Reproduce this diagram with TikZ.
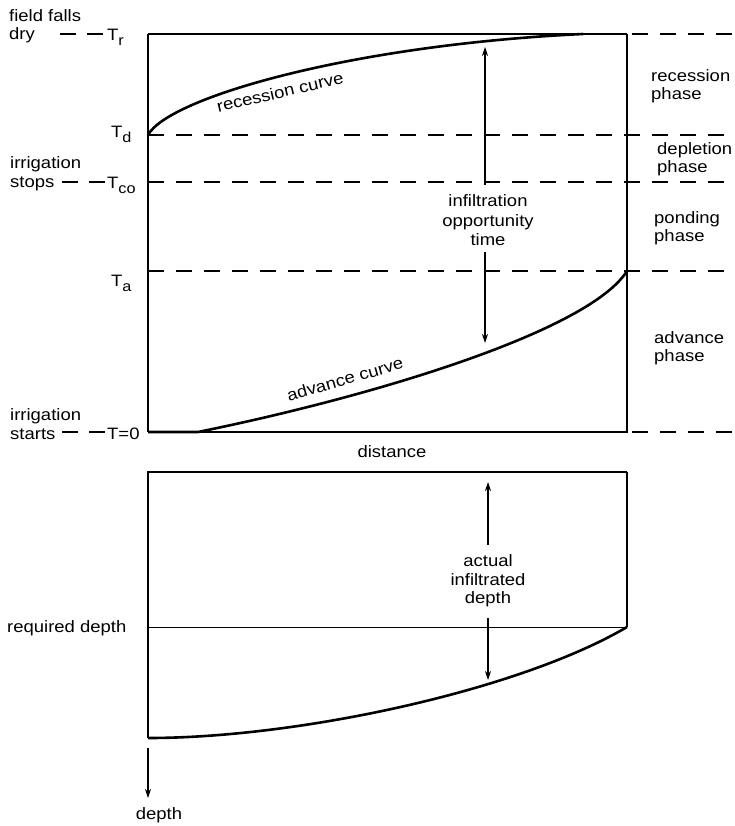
\documentclass[tikz,border=0pt]{standalone}
\usepackage{fontspec}
\setmainfont{Liberation Sans}[FakeStretch=1.12]
\usetikzlibrary{arrows.meta}
\newcommand\lowsub[1]{\raisebox{-5pt}{\fontsize{14.5}{14.5}\selectfont #1}}
\begin{document}
\begin{tikzpicture}[x=1pt,y=-1pt,
  lbl/.style={inner sep=0pt, font=\fontsize{16.5}{18.5}\selectfont},
  boxline/.style={line width=1.2pt},
  topline/.style={line width=1.8pt},
  curveline/.style={line width=2.6pt},
  dashline/.style={line width=1.2pt, dash pattern=on 16pt off 12pt},
  leftdash/.style={line width=1.1pt, dash pattern=on 16pt off 11pt},
  arr/.style={line width=1.1pt, -{Stealth[length=9pt,width=6pt]}},
]
\useasboundingbox (0,0) rectangle (735,826);

% ---------- upper diagram: corners and levels
\coordinate (A) at (148,34);
\coordinate (B) at (627,34);
\coordinate (C) at (627,432);
\coordinate (D) at (148,432);
\coordinate (Adv0) at (198,432);
\coordinate (Rec1) at (583,34);
\coordinate (Td) at (148,135);
\coordinate (Tco) at (148,182);
\coordinate (Ta) at (148,271);
\coordinate (Ta2) at (627,271);
\coordinate (RTr) at (735,34);
\coordinate (RTd) at (735,135);
\coordinate (RTco) at (735,182);
\coordinate (RTa) at (735,271);
\coordinate (R0) at (735,432);
\coordinate (Bd) at (632,34);
\coordinate (Cd) at (632,432);

% box
\draw[topline] (A) -- (B);
\draw[boxline] (A) -- (D);
\draw[boxline] (B) -- (C) -- (D);

% dashed level lines
\draw[dashline] (Bd) -- (RTr);
\draw[dashline] (Td) -- (RTd);
\draw[dashline] (Tco) -- (RTco);
\draw[dashline] (Ta) -- (RTa);
\draw[dashline] (Cd) -- (R0);

% curves
\draw[curveline] (Td) .. controls (168,98) and (350,45) .. (Rec1);
\draw[curveline] (D) -- (Adv0) .. controls (380,395) and (590,330) .. (Ta2);

\node[lbl, rotate=13] (reccurve) at (280,92) {recession curve};
\node[lbl, rotate=16] (advcurve) at (345,379) {advance curve};

% left labels
\node[lbl, anchor=base west] (ff1) at (9,22) {field falls};
\node[lbl, anchor=base west] (ff2) at (9,40) {dry};
\node[lbl, anchor=base west] (TrL) at (107,41) {T\lowsub{r}};
\coordinate (dTr) at (60,34);
\draw[leftdash] (dTr) -- (dTr -| TrL.west);

\node[lbl, anchor=base west] (TdL) at (111,138) {T\lowsub{d}};

\node[lbl, anchor=base west] (is1) at (10,169) {irrigation};
\node[lbl, anchor=base west] (is2) at (10,188) {stops};
\node[lbl, anchor=base west] (TcoL) at (107,189) {T\lowsub{co}};
\coordinate (dTco) at (62,182);
\draw[leftdash] (dTco) -- (dTco -| TcoL.west);

\node[lbl, anchor=base west] (TaL) at (111,286) {T\lowsub{a}};

\node[lbl, anchor=base west] (ist1) at (10,420) {irrigation};
\node[lbl, anchor=base west] (ist2) at (10,439) {starts};
\node[lbl, anchor=base west] (T0L) at (107,439) {T=0};
\coordinate (dT0) at (62,432);
\draw[leftdash] (dT0) -- (dT0 -| T0L.west);

% right phase labels
\node[lbl, anchor=base west] (rp1) at (651,82) {recession};
\node[lbl, anchor=base west] (rp2) at (651,100) {phase};
\node[lbl, anchor=base west] (dp1) at (657,155) {depletion};
\node[lbl, anchor=base west] (dp2) at (657,173) {phase};
\node[lbl, anchor=base west] (pp1) at (654,223) {ponding};
\node[lbl, anchor=base west] (pp2) at (654,241) {phase};
\node[lbl, anchor=base west] (ap1) at (654,343) {advance};
\node[lbl, anchor=base west] (ap2) at (654,361) {phase};

% infiltration opportunity time
\node[lbl, anchor=base] (iot1) at (488,207) {infiltration};
\node[lbl, anchor=base] (iot2) at (488,226) {opportunity};
\node[lbl, anchor=base] (iot3) at (488,245) {time};
\coordinate (iotA) at (485,185);
\coordinate (iotAt) at (485,47);
\coordinate (iotB) at (485,252);
\coordinate (iotBt) at (485,343);
\draw[arr] (iotA) -- (iotAt);
\draw[arr] (iotB) -- (iotBt);

\node[lbl, anchor=base] (dist) at (392,457) {distance};

% ---------- lower diagram
\coordinate (E) at (148,472);
\coordinate (F) at (627,472);
\coordinate (G) at (627,627);
\coordinate (H) at (148,627);
\coordinate (I) at (148,738);
\draw[boxline] (F) -- (E) -- (I);
\draw[boxline] (F) -- (G);
\draw[line width=1pt] (H) -- (G);
\draw[curveline] (I) .. controls (300,738) and (520,690) .. (G);

\node[lbl, anchor=base] (aid1) at (488,566) {actual};
\node[lbl, anchor=base] (aid2) at (488,585) {infiltrated};
\node[lbl, anchor=base] (aid3) at (488,603) {depth};
\coordinate (aidA) at (488,545);
\coordinate (aidAt) at (488,482);
\coordinate (aidB) at (488,618);
\coordinate (aidBt) at (488,680);
\draw[arr] (aidA) -- (aidAt);
\draw[arr] (aidB) -- (aidBt);

\node[lbl, anchor=base west] (reqd) at (7,632) {required depth};

\coordinate (dep0) at (148,748);
\coordinate (dep1) at (148,798);
\draw[arr] (dep0) -- (dep1);
\node[lbl, anchor=base] (depth) at (159,819) {depth};
\end{tikzpicture}
\end{document}
